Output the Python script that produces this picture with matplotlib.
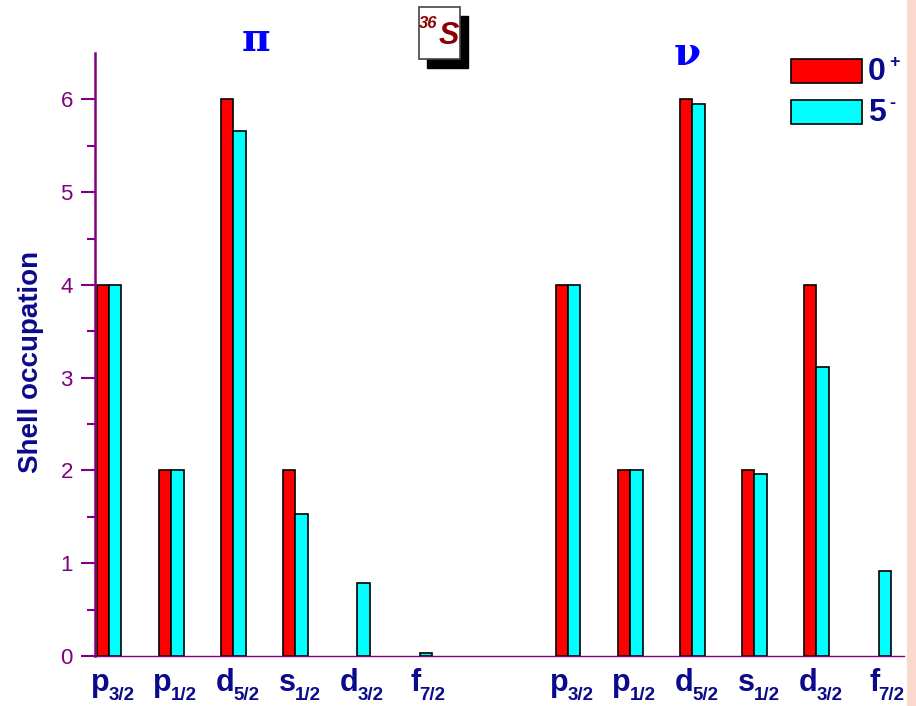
import numpy as np
import matplotlib.pyplot as plt
from matplotlib.patches import Rectangle

plt.rcParams['font.family'] = ['Liberation Sans', 'DejaVu Sans']

orbitals = ['p', 'p', 'd', 's', 'd', 'f']
subs = ['3/2', '1/2', '5/2', '1/2', '3/2', '7/2']
proton_0p = [4, 2, 6, 2, 0, 0]
proton_5m = [4, 2, 5.66, 1.53, 0.79, 0.03]
neutron_0p = [4, 2, 6, 2, 4, 0]
neutron_5m = [4, 2, 5.95, 1.96, 3.11, 0.92]

purple = '#800080'
navy = '#0a0a8c'
w = 0.2

fig = plt.figure(figsize=(9.16, 7.06), dpi=100)
ax = fig.add_axes([95/916, 50/706, 809/916, 603/706])

xp = np.arange(6)
xn = np.arange(6) + 7.39
x_all = np.concatenate([xp, xn])
v0 = np.array(proton_0p + neutron_0p)
v5 = np.array(proton_5m + neutron_5m)

ax.bar(x_all - w/2, v0, w, color='#ff0000', edgecolor='black',
       linewidth=[1.2 if v > 0 else 0 for v in v0], zorder=2)
ax.bar(x_all + w/2, v5, w, color='#00ffff', edgecolor='black',
       linewidth=[1.2 if v > 0 else 0 for v in v5], zorder=2)

ax.set_xlim(-0.225, 12.8)
ax.set_ylim(0, 6.5)

# x labels: letter + subscript drawn as two texts
ax.set_xticks([])
for xx, o, s in zip(x_all, orbitals * 2, subs * 2):
    ax.annotate(o, xy=(xx, 0), xycoords=('data', 'axes fraction'),
                xytext=(1, -35), textcoords='offset pixels', ha='right', va='baseline',
                fontsize=22, fontweight='bold', color=navy)
    ax.annotate(s, xy=(xx, 0), xycoords=('data', 'axes fraction'),
                xytext=(0, -44), textcoords='offset pixels', ha='left', va='baseline',
                fontsize=13.5, fontweight='bold', color=navy)

ax.set_yticks(range(7))
ax.set_yticks(np.arange(0.5, 6.5, 1), minor=True)
ax.tick_params(axis='y', which='major', length=10, width=1.5, colors=purple,
               labelsize=16, direction='out', pad=6)
ax.tick_params(axis='y', which='minor', length=6, width=1.5, colors=purple, direction='out')

for s in ['top', 'right']:
    ax.spines[s].set_visible(False)
ax.spines['left'].set_color(purple)
ax.spines['left'].set_linewidth(1.8)
ax.spines['bottom'].set_color(purple)
ax.spines['bottom'].set_linewidth(1.0)

fig.text(31/916, 1 - 362/706, 'Shell occupation', rotation=90, ha='center', va='center',
         fontsize=20, fontweight='bold', color=navy)

fig.text(256/916, 1 - 40/706, 'π', fontsize=28, color='#0000ff', ha='center', va='center',
         family='DejaVu Serif', fontweight='bold')
fig.text(687/916, 1 - 54/706, 'ν', fontsize=28, color='#0000ff', ha='center', va='center',
         family='DejaVu Serif', fontweight='bold')

# 36S box with shadow
fig.patches.append(Rectangle((427/916, 1 - 68/706), 41/916, 52/706, transform=fig.transFigure,
                             facecolor='black', edgecolor='black', zorder=1))
fig.patches.append(Rectangle((419/916, 1 - 59/706), 41/916, 52/706, transform=fig.transFigure,
                             facecolor='white', edgecolor='#444444', lw=1.2, zorder=2))
fig.text(428/916, 1 - 23/706, '36', fontsize=12, style='italic', fontweight='bold',
         color='#8b0000', ha='center', va='center', zorder=3)
fig.text(449/916, 1 - 36/706, 'S', fontsize=22, style='italic', fontweight='bold',
         color='#8b0000', ha='center', va='center', zorder=3)

# legend
for yy, c, lab, sup in [(59, '#ff0000', '0', '+'), (100, '#00ffff', '5', '-')]:
    fig.patches.append(Rectangle((791/916, 1 - (yy + 24)/706), 71/916, 24/706,
                                 transform=fig.transFigure, facecolor=c,
                                 edgecolor='black', lw=1.2))
    fig.text(868/916, 1 - (yy + 13)/706, lab, fontsize=23, fontweight='bold',
             color=navy, ha='left', va='center')
    fig.text(889/916, 1 - (yy + 3)/706, sup, fontsize=13, fontweight='bold',
             color=navy, ha='left', va='center')

# right decorative band
fig.patches.append(Rectangle((907/916, 0), 9/916, 1, transform=fig.transFigure,
                             facecolor='#fbd8cc', edgecolor='none'))

fig.savefig('out.png', dpi=100)
